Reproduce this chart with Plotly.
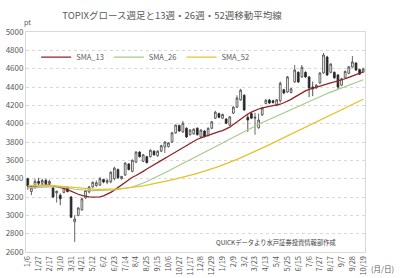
import pandas as pd
import plotly.graph_objects as go

# weekly dates (Monday of each week)
dates = pd.date_range("2014-01-06", periods=94, freq="7D")

tick_labels = ["1/6", "1/27", "2/17", "3/10", "3/31", "4/21", "5/12", "6/2", "6/23", "7/14",
               "8/4", "8/25", "9/15", "10/6", "10/27", "11/17", "12/8", "12/29", "1/19", "2/9",
               "3/2", "3/23", "4/13", "5/4", "5/25", "6/15", "7/6", "7/27", "8/17", "9/7",
               "9/28", "10/19"]

opens = [3400, 3260, 3300, 3370, 3350, 3380, 3345, 3300, 3245, 3220,
         3250, 3300, 3200, 2930, 3000, 3060, 3190, 3255, 3310, 3325,
         3330, 3390, 3360, 3365, 3400, 3500, 3400, 3440, 3560, 3480,
         3580, 3690, 3590, 3640, 3640, 3700, 3650, 3700, 3745, 3750,
         3800, 3900, 3980, 3910, 3950, 3880, 3890, 3950, 3855, 3920,
         3870, 3950, 4060, 4110, 4060, 4050, 3985, 4115, 4180, 4260,
         4310, 4070, 4110, 4060, 3955, 4095, 4220, 4258, 4250, 4200,
         4250, 4370, 4345, 4340, 4455, 4560, 4510, 4560, 4510, 4400,
         4390, 4444, 4553, 4727, 4560, 4560, 4531, 4420, 4500, 4550,
         4618, 4662, 4590, 4564]
highs = [3410, 3330, 3400, 3410, 3400, 3400, 3390, 3310, 3270, 3240,
         3310, 3310, 3210, 3000, 3090, 3190, 3280, 3320, 3370, 3380,
         3420, 3400, 3400, 3480, 3530, 3510, 3430, 3580, 3570, 3610,
         3700, 3700, 3670, 3650, 3720, 3710, 3710, 3770, 3810, 3800,
         3910, 3990, 3990, 4030, 3960, 3940, 3950, 3960, 3940, 3930,
         3960, 4030, 4140, 4120, 4110, 4060, 4080, 4190, 4310, 4380,
         4320, 4100, 4120, 4120, 4110, 4180, 4270, 4270, 4260, 4270,
         4460, 4380, 4520, 4390, 4640, 4570, 4640, 4570, 4520, 4460,
         4430, 4560, 4771, 4740, 4660, 4570, 4540, 4500, 4580, 4630,
         4738, 4670, 4600, 4610]
lows = [3280, 3220, 3290, 3330, 3320, 3330, 3320, 3190, 3140, 3110,
        3240, 3250, 2970, 2710, 2990, 3050, 3180, 3240, 3300, 3310,
        3320, 3350, 3340, 3350, 3380, 3400, 3390, 3430, 3490, 3470,
        3570, 3630, 3580, 3565, 3630, 3650, 3640, 3690, 3680, 3740,
        3790, 3890, 3910, 3900, 3845, 3870, 3880, 3870, 3845, 3850,
        3860, 3940, 4050, 4060, 4050, 3995, 3975, 4105, 4170, 4250,
        4140, 3910, 4050, 3880, 3945, 4085, 4210, 4215, 4220, 4190,
        4230, 4320, 4335, 4330, 4445, 4445, 4500, 4500, 4290, 4300,
        4380, 4435, 4545, 4520, 4550, 4490, 4367, 4410, 4490, 4540,
        4610, 4575, 4530, 4555]
closes = [3320, 3300, 3370, 3350, 3380, 3345, 3370, 3200, 3262, 3180,
          3300, 3260, 2980, 2960, 3080, 3180, 3270, 3310, 3360, 3355,
          3400, 3365, 3380, 3470, 3515, 3410, 3425, 3570, 3500, 3600,
          3690, 3640, 3660, 3575, 3710, 3660, 3700, 3760, 3800, 3790,
          3900, 3985, 3920, 4005, 3855, 3930, 3940, 3880, 3930, 3860,
          3950, 4020, 4125, 4070, 4100, 4005, 4075, 4180, 4280, 4365,
          4150, 4040, 4060, 4070, 4040, 4170, 4255, 4225, 4230, 4260,
          4440, 4335, 4510, 4380, 4585, 4455, 4615, 4510, 4390, 4380,
          4420, 4553, 4749, 4531, 4650, 4500, 4400, 4490, 4570, 4620,
          4673, 4585, 4540, 4596]

sma_13 = [3320, 3322, 3325, 3328, 3330, 3330, 3328, 3322, 3315, 3305,
          3295, 3280, 3262, 3245, 3230, 3218, 3208, 3202, 3198, 3198,
          3202, 3212, 3228, 3250, 3275, 3305, 3335, 3365, 3390, 3415,
          3435, 3455, 3480, 3505, 3530, 3555, 3578, 3600, 3622, 3645,
          3668, 3692, 3715, 3740, 3765, 3790, 3810, 3830, 3845, 3860,
          3872, 3885, 3898, 3912, 3925, 3940, 3962, 3990, 4020, 4050,
          4080, 4105, 4125, 4145, 4160, 4172, 4180, 4188, 4195, 4202,
          4212, 4228, 4245, 4265, 4290, 4315, 4338, 4358, 4375, 4388,
          4400, 4412, 4425, 4435, 4445, 4455, 4465, 4478, 4490, 4505,
          4520, 4535, 4550, 4565]
sma_26 = [3300, 3302, 3305, 3308, 3310, 3312, 3314, 3314, 3312, 3310,
          3306, 3300, 3292, 3285, 3280, 3276, 3273, 3271, 3270, 3270,
          3270, 3271, 3272, 3274, 3277, 3281, 3286, 3292, 3300, 3310,
          3322, 3336, 3352, 3368, 3386, 3405, 3424, 3444, 3464, 3484,
          3505, 3526, 3547, 3568, 3589, 3610, 3630, 3650, 3670, 3690,
          3710, 3730, 3750, 3770, 3790, 3810, 3831, 3852, 3873, 3894,
          3915, 3935, 3955, 3974, 3993, 4012, 4030, 4048, 4066, 4084,
          4102, 4120, 4138, 4156, 4174, 4192, 4210, 4228, 4246, 4263,
          4280, 4296, 4312, 4328, 4344, 4359, 4374, 4389, 4404, 4419,
          4434, 4449, 4464, 4479]
sma_52 = [3325, 3326, 3327, 3328, 3328, 3328, 3327, 3325, 3322, 3318,
          3314, 3310, 3305, 3300, 3296, 3292, 3289, 3287, 3285, 3284,
          3283, 3283, 3284, 3285, 3287, 3289, 3292, 3296, 3300, 3305,
          3310, 3316, 3322, 3329, 3336, 3344, 3352, 3360, 3369, 3378,
          3387, 3396, 3406, 3416, 3426, 3437, 3448, 3459, 3470, 3482,
          3494, 3507, 3520, 3534, 3548, 3563, 3578, 3594, 3610, 3627,
          3644, 3662, 3680, 3698, 3716, 3734, 3753, 3772, 3791, 3810,
          3829, 3848, 3867, 3886, 3905, 3924, 3943, 3962, 3981, 4000,
          4019, 4038, 4057, 4076, 4095, 4114, 4133, 4152, 4171, 4190,
          4209, 4228, 4247, 4266]

FONT = "Noto Sans CJK JP"
GRAY = "#595959"

fig = go.Figure()
fig.add_trace(go.Candlestick(
    x=dates, open=opens, high=highs, low=lows, close=closes,
    increasing=dict(line=dict(color="#404040", width=0.8), fillcolor="white"),
    decreasing=dict(line=dict(color="#262626", width=0.8), fillcolor="#262626"),
    whiskerwidth=0, showlegend=False, hoverinfo="skip"))
fig.add_trace(go.Scatter(x=dates, y=sma_13, mode="lines", name="SMA_13",
                         line=dict(color="#8E2424", width=1.3)))
fig.add_trace(go.Scatter(x=dates, y=sma_26, mode="lines", name="SMA_26",
                         line=dict(color="#A6C98A", width=1.1)))
fig.add_trace(go.Scatter(x=dates, y=sma_52, mode="lines", name="SMA_52",
                         line=dict(color="#E6C22A", width=1.3)))

fig.update_layout(
    width=400, height=278,
    margin=dict(l=26, r=35, t=32, b=26),
    paper_bgcolor="white", plot_bgcolor="white",
    font=dict(family=FONT, size=8, color=GRAY),
    title=dict(text="TOPIXグロース週足と13週・26週・52週移動平均線",
               x=0.43, xanchor="center", y=0.945, yanchor="middle",
               font=dict(family=FONT, size=9.5, color=GRAY)),
    legend=dict(orientation="h", x=0.03, y=0.886, xanchor="left", yanchor="middle",
                bgcolor="rgba(0,0,0,0)", font=dict(size=7.5, color=GRAY),
                itemwidth=30, entrywidth=0, tracegroupgap=0),
    xaxis=dict(type="date", rangeslider=dict(visible=False),
               range=[dates[0] - pd.Timedelta(days=3.5), dates[-1] + pd.Timedelta(days=3.5)],
               tickvals=list(dates[::3]), ticktext=tick_labels, tickangle=-90,
               tickfont=dict(size=7.5, color=GRAY), showgrid=False,
               showline=True, linecolor="#D9D9D9", mirror=True, ticks="",
               automargin=False),
    yaxis=dict(range=[2600, 5000], dtick=200, tickfont=dict(size=8, color=GRAY),
               showgrid=True, gridcolor="#D9D9D9", griddash="dot", gridwidth=1,
               showline=True, linecolor="#D9D9D9", mirror=True, zeroline=False,
               ticks="", automargin=False),
    showlegend=True,
)

fig.add_annotation(text="pt", xref="paper", yref="paper", x=-0.012, y=1.045,
                   showarrow=False, xanchor="left", yanchor="middle",
                   font=dict(size=7, color=GRAY))
fig.add_annotation(text="QUICKデータより水戸証券投資情報部作成", xref="paper", yref="paper",
                   x=0.92, y=0.045, showarrow=False, xanchor="right", yanchor="middle",
                   font=dict(size=6.3, color="#404040"))
fig.add_annotation(text="(月/日)", xref="paper", yref="paper", x=1.09, y=-0.073,
                   showarrow=False, xanchor="right", yanchor="middle",
                   font=dict(size=7.5, color=GRAY))

fig.write_html("out.html")
